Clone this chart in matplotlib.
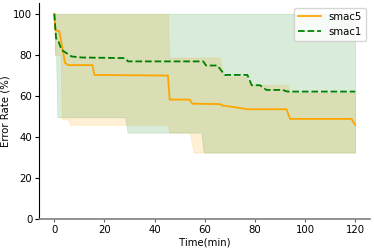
import numpy as np
import matplotlib.pyplot as plt

# smac5 mean curve (vertices)
t5 = [0, 0.4, 2.0, 4.3, 5.6, 15.2, 16.0, 45.3, 46.0, 54.0, 55.0, 66.0, 67.0, 72.0, 77.0, 92.6, 94.0, 118.5, 120]
v5 = [100, 92, 91.5, 76, 75, 75, 70.2, 69.9, 58.2, 58.2, 56.2, 56.0, 55.3, 54.5, 53.5, 53.5, 48.8, 48.8, 45.9]

# smac1 mean curve
t1 = [0, 0.7, 1.6, 2.9, 4.9, 6.9, 11, 28.1, 29.4, 59.4, 60.5, 65, 68, 77, 78.7, 82, 84.6, 91, 93, 120]
v1 = [100, 88, 86.7, 82.4, 80.8, 79.2, 78.7, 78.4, 76.8, 76.8, 74.8, 74.8, 70.2, 70.2, 65.2, 65.2, 62.9, 62.9, 62.1, 62.1]

# min / max bands
t5_band = [0, 0.3, 2.5, 3.0, 5.5, 6.2, 45.3, 45.8, 54.0, 55.5, 66.0, 67.5, 76.5, 77.5, 93.0, 94.0, 120]
lo5 = [100, 80, 80, 48.6, 48.6, 45.9, 45.9, 42.1, 42.1, 32.4, 32.4, 32.4, 32.4, 32.4, 32.4, 32.4, 32.4]
hi5 = [100, 100, 100, 100, 100, 100, 100, 78.7, 78.7, 78.7, 78.7, 69.4, 69.4, 65.4, 65.4, 61.5, 61.5]

t1_band = [0, 0.3, 0.7, 1.2, 28.2, 29.2, 58.6, 59.5, 120]
lo1 = [100, 80, 80, 49.6, 49.6, 42.1, 42.1, 32.4, 32.4]
hi1 = [100, 100, 100, 100, 100, 100, 100, 100, 100]

plt.rcParams['font.size'] = 7.3

fig = plt.figure(figsize=(3.74, 2.49), dpi=100)
ax = fig.add_axes([0.105, 0.12, 0.885, 0.866])

ax.fill_between(t5_band, lo5, hi5, color='orange', alpha=0.17, linewidth=0.5)
ax.fill_between(t1_band, lo1, hi1, color='green', alpha=0.15, linewidth=0.5)
ax.plot(t5, v5, color='orange', lw=1.3, label='smac5')
ax.plot(t1, v1, color='green', lw=1.3, ls='--', label='smac1')

ax.set_xlim(-6, 126)
ax.set_ylim(0, 105)
ax.set_xticks([0, 20, 40, 60, 80, 100, 120])
ax.set_yticks([0, 20, 40, 60, 80, 100])
ax.set_xlabel('Time(min)', labelpad=2)
ax.set_ylabel('Error Rate (%)', labelpad=2)

ax.spines['top'].set_visible(False)
ax.spines['right'].set_visible(False)
ax.spines['bottom'].set_color('0.5')
ax.spines['bottom'].set_linewidth(1.2)
ax.tick_params(axis='x', length=2, width=0.8, color='0.4', pad=2)
ax.tick_params(axis='y', length=3, width=0.8, pad=2)

ax.legend(loc='upper right', borderaxespad=0.4, handlelength=2.2)

fig.savefig('out.png', dpi=100)
